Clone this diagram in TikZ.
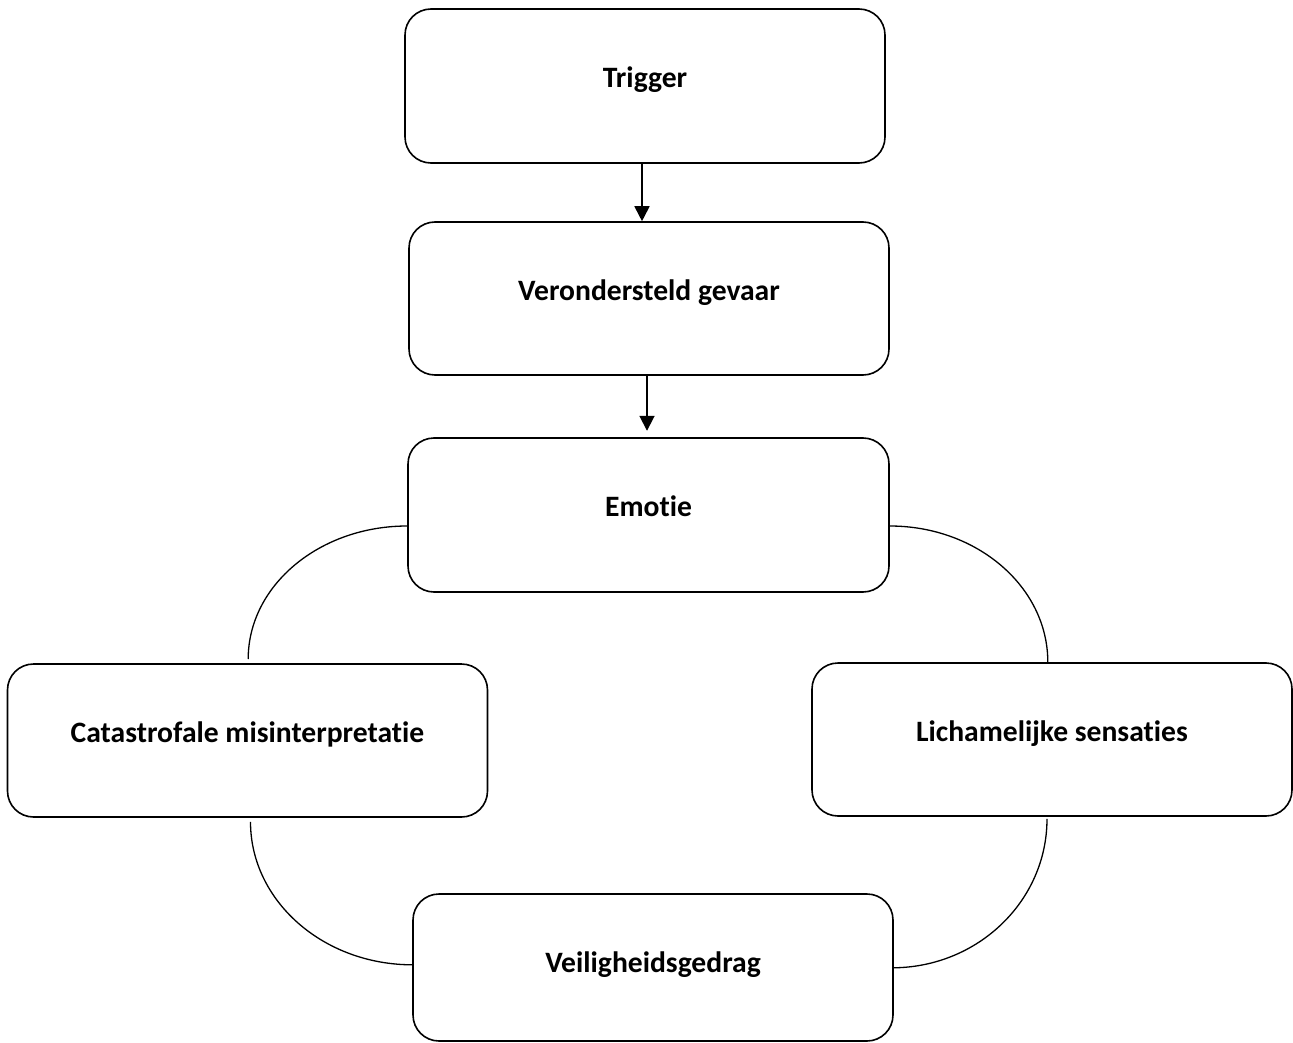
\documentclass[tikz,border=0pt]{standalone}
\usepackage{fontspec}
\setmainfont[Ligatures=NoCommon]{Carlito}
\usetikzlibrary{arrows.meta}
\begin{document}
\begin{tikzpicture}[x=1pt,y=-1pt,
  box/.style={draw=black, line width=1.6pt, rounded corners=26pt, fill=white,
    minimum width=480pt, inner sep=0pt, text height=20pt, text depth=17pt,
    font=\fontsize{29.6}{34}\selectfont\bfseries},
  arr/.style={line width=1.8pt, -{Triangle[width=15pt,length=15pt]}},
  link/.style={line width=1.3pt}]
\useasboundingbox (0,0) rectangle (1293,1043);
\node[box, minimum height=154pt] (t) at (645,86) {Trigger};
\node[box, minimum height=153pt] (v) at (649,298.5) {Verondersteld gevaar};
\node[box, minimum height=154pt, minimum width=481pt] (e) at (648.5,515) {Emotie};
\node[box, minimum height=153pt] (c) at (247.5,740.5) {Catastrofale misinterpretatie};
\node[box, minimum height=153pt] (l) at (1052,739.5) {Lichamelijke sensaties};
\node[box, minimum height=147pt, text height=24pt, text depth=14pt] (g) at (653,967.5) {Veiligheidsgedrag};
\draw[arr] ([xshift=-3pt]t.south) -- ([xshift=-3pt]t.south |- v.north);
\draw[arr] ([xshift=-2pt]v.south) -- ++(0,55);
\draw[link] ([yshift=-11pt]e.west) arc[start angle=90, end angle=180, x radius=159pt, y radius=133pt];
\draw[link] ([yshift=-11pt]e.east) arc[start angle=90, end angle=0, x radius=158pt, y radius=136pt];
\draw[link] ([yshift=-4pt]c.south) ++(3pt,0) arc[start angle=180, end angle=270, x radius=162pt, y radius=143pt];
\draw[link] ([yshift=-2pt]l.south) ++(-5pt,0) arc[start angle=0, end angle=-90, x radius=155pt, y radius=149pt];
\end{tikzpicture}
\end{document}
